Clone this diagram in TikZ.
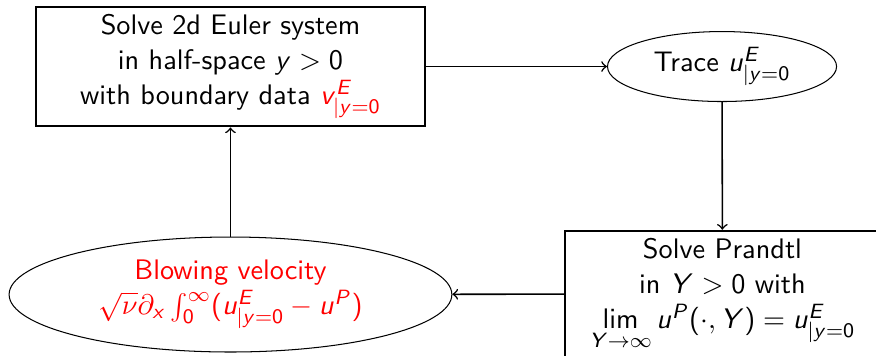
\documentclass[tikz,border=0pt,11pt]{standalone}
\usetikzlibrary{positioning, shapes.geometric}
% sans serif math, as in slides
\SetSymbolFont{operators}{normal}{OT1}{cmss}{m}{n}
\DeclareSymbolFont{sfletters}{OT1}{cmss}{m}{sl}
\DeclareMathSymbol{u}{\mathalpha}{sfletters}{`u}
\DeclareMathSymbol{v}{\mathalpha}{sfletters}{`v}
\DeclareMathSymbol{x}{\mathalpha}{sfletters}{`x}
\DeclareMathSymbol{y}{\mathalpha}{sfletters}{`y}
\DeclareMathSymbol{E}{\mathalpha}{sfletters}{`E}
\DeclareMathSymbol{P}{\mathalpha}{sfletters}{`P}
\DeclareMathSymbol{Y}{\mathalpha}{sfletters}{`Y}

\begin{document}
\begin{tikzpicture}
    [
        font=\sffamily, align=center,
        step_box/.style={rectangle, draw=black, thick, inner sep=1mm},
        step_oval/.style={ellipse, draw=black, thin, inner sep=0.5mm},
        flow/.style={->, semithick},
    ]
  \useasboundingbox (0,0) rectangle (11.931,-4.835);

  \node[step_box, minimum width=5.30cm, minimum height=1.62cm] (euler) at (3.139,-0.906)
    {Solve 2d Euler system\\ in half-space $y>0$\\ with boundary data \textcolor{red}{$v^E_{|y=0}$}};
  \node[step_oval, minimum width=3.12cm, minimum height=0.953cm] (trace) at (9.834,-0.906)
    {Trace $u^E_{|y=0}$};
  \node[step_box, minimum width=4.29cm, minimum height=1.716cm] (prandtl) at (9.84,-4.004)
    {Solve Prandtl\\ in $Y>0$ with\\ $\lim\limits_{Y\to\infty} u^P(\cdot,Y)=u^E_{|y=0}$};
  \node[step_oval, minimum width=6.03cm, minimum height=1.566cm, text=red] (blow) at (3.139,-4.011)
    {Blowing velocity\\ $\sqrt{\nu}\partial_x\int_0^\infty(u^E_{|y=0}-u^P)$};

  \draw[flow] (euler) -- (trace);
  \draw[flow] (trace) -- (prandtl);
  \draw[flow] (prandtl) -- (blow);
  \draw[flow] (blow) -- (euler);
\end{tikzpicture}
\end{document}
